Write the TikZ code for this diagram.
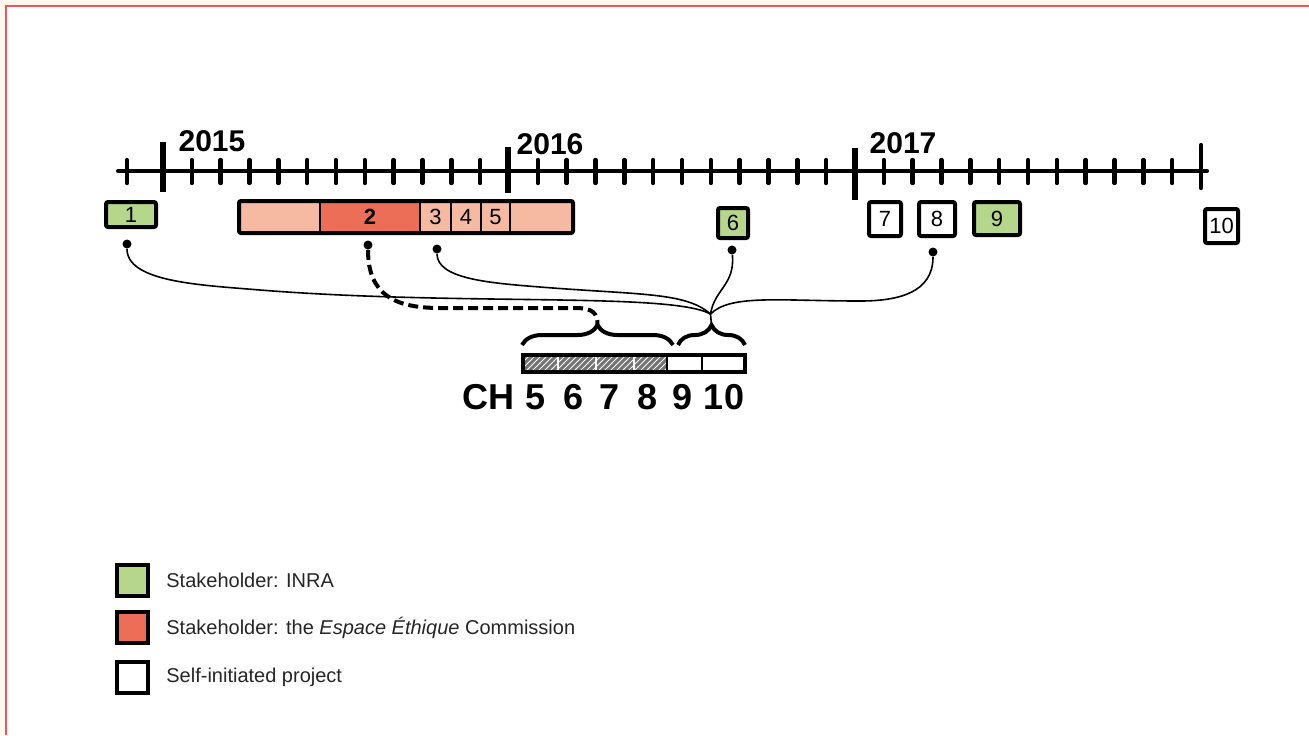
\documentclass[tikz,border=0pt]{standalone}
\usepackage{fontspec}
\setmainfont{Liberation Sans}
\usetikzlibrary{positioning,decorations.pathreplacing,patterns}

\definecolor{inragreen}{RGB}{182,214,140}
\definecolor{eered}{RGB}{236,110,86}
\definecolor{eelight}{RGB}{246,186,162}
\definecolor{framered}{RGB}{236,86,86}
\definecolor{cream}{RGB}{255,248,240}

\begin{document}
\begin{tikzpicture}[
    x=0.5pt, y=-0.5pt,
    axis/.style={line width=2pt, line cap=round},
    tick/.style={line width=2.2pt, line cap=round},
    yeartick/.style={line width=3pt},
    year/.style={font=\fontsize{15}{16}\selectfont\bfseries},
    task/.style={draw, line width=2pt, rounded corners=1pt, inner sep=0pt,
                 font=\fontsize{11}{12}\selectfont},
    cell/.style={draw, line width=0.8pt, inner sep=0pt, outer sep=0pt,
                 minimum height=16pt, font=\fontsize{11}{12}\selectfont},
    pin/.style={circle, fill, inner sep=0pt, minimum size=4.5pt},
    link/.style={line width=0.8pt},
    dashlink/.style={line width=2pt, dash pattern=on 5pt off 2.5pt},
    brace/.style={decorate, decoration={brace, amplitude=10pt}, line width=2pt},
    hatch/.style={draw=white, line width=0.8pt, inner sep=0pt, outer sep=0pt,
                  minimum height=8.5pt, fill=black!55,
                  postaction={pattern=north east lines, pattern color=white}},
    blank/.style={draw, line width=0.8pt, inner sep=0pt, outer sep=0pt,
                  minimum height=8.5pt, fill=white},
    chap/.style={font=\fontsize{18}{19}\selectfont\bfseries},
    key/.style={draw, line width=2pt, minimum size=15.5pt, inner sep=0pt},
    keytext/.style={inner sep=0pt, text=black!85, font=\fontsize{10}{12}\selectfont},
  ]

  % ============================== Frame ===================================
  \useasboundingbox (0,0) rectangle (1309,735);
  \fill[cream] (0,0) rectangle (1309,735);
  \fill[white] (6,6) rectangle (1309,735);
  \draw[framered, line width=0.8pt] (6,735) -- (6,6) -- (1309,6);

  % ============================== Timeline ================================
  \draw[axis] (118,171) -- (1207,171);
  \draw[tick] (127,160) -- (127,183);
  \foreach \yr in {0,1,2}
    \foreach \m in {1,...,11}
      \draw[tick] ({163+346*\yr+28.83*\m},160) -- ++(0,23);
  \foreach \xx/\ya/\yb in {163/142/192, 508/147/193, 855/148/200}
    \draw[yeartick] (\xx,\ya) -- (\xx,\yb);
  \draw[tick] (1201,145) -- (1201,188);

  \node[year] (y2015) at (212,141) {2015};
  \node[year] (y2016) at (550,144) {2016};
  \node[year] (y2017) at (903,143) {2017};

  % ============================== Projects ================================
  \node[task, fill=inragreen, minimum width=25pt, minimum height=12.5pt] (p1) at (131,214.5) {1};

  \node[cell, fill=eelight, minimum width=40.5pt] (c0) at (279.5,217) {};
  \node[cell, fill=eered, minimum width=50pt, font=\fontsize{11}{12}\selectfont\bfseries] (p2) at (370,217) {2};
  \node[cell, fill=eelight, minimum width=15.5pt] (p3) at (435.5,217) {3};
  \node[cell, fill=eelight, minimum width=15pt] (p4) at (466,217) {4};
  \node[cell, fill=eelight, minimum width=14.5pt] (p5) at (495.5,217) {5};
  \node[cell, fill=eelight, minimum width=31.5pt] (c6) at (541.5,217) {};
  \draw[line width=2pt, rounded corners=1pt] (c0.north west) rectangle (c6.south east);

  \node[task, fill=inragreen, minimum width=15pt, minimum height=15pt] (p6) at (733,223) {6};
  \node[task, fill=white, minimum width=16pt, minimum height=17pt] (p7) at (885,219) {7};
  \node[task, fill=white, minimum width=18pt, minimum height=17pt] (p8) at (937,219) {8};
  \node[task, fill=inragreen, minimum width=23pt, minimum height=16.5pt] (p9) at (997,218.5) {9};
  \node[task, fill=white, minimum width=16.5pt, minimum height=17pt] (p10) at (1221.5,226) {10};

  \foreach \n/\xx/\yy in {d1/127/244, d2/368/245, d3/437/249, d6/732/250, d8/933/252}
    \node[pin] (\n) at (\xx,\yy) {};

  % ============================== Chapters ================================
  \foreach \n/\xx/\w in {h5/540.5/17.5, h6/577/19, h7/615/19, h8/650.5/16.5}
    \node[hatch, minimum width=\w pt] (\n) at (\xx,363) {};
  \node[blank, minimum width=17.5pt] (w9) at (684.5,363) {};
  \node[blank, minimum width=21.5pt] (w10) at (723.5,363) {};
  \draw[line width=2pt] (h5.north west) rectangle (w10.south east);

  \node[chap] (ch) at (488,397) {CH};
  \foreach \n/\xx in {5/536, 6/573, 7/609, 8/647, 9/682, 10/724}
    \node[chap] (l\n) at (\xx,397) {\n};

  \draw[brace] (522,345) -- (673,345);
  \draw[brace] (678,345) -- (745,345);
  \coordinate (bigtip) at (597.5,325);
  \coordinate (smalltip) at (711.5,325);
  \coordinate (jn) at (710.5,314);

  % ============================== Links ===================================
  \draw[link] (d1) .. controls +(0,38) and +(-60,-5) .. (260,290)
                   .. controls +(200,16) and +(-40,-22) .. (jn);
  \draw[link] (d3) .. controls +(0,30) and +(-50,-4) .. (540,287)
                   .. controls +(100,8) and +(-25,-22) .. (jn);
  \draw[link] (d6) .. controls +(3,35) and +(4,-25) .. (jn);
  \draw[link] (d8) .. controls +(0,40) and +(40,0) .. (860,301)
                   .. controls +(-80,0) and +(20,-20) .. (jn);
  \draw[link] (jn) -- (smalltip);
  \draw[dashlink] (d2) .. controls +(0,50) and +(-45,0) .. (440,308) -- (575,308)
                       .. controls +(18,0) and +(0,-12) .. (bigtip);

  % ============================== Legend ==================================
  \node[key, fill=inragreen] (kinra) at (132.5,580.5) {};
  \node[keytext, right=8pt of kinra] (tinra) {Stakeholder: INRA};
  \node[key, fill=eered] (kee) at (132.5,627.5) {};
  \node[keytext, right=8pt of kee] (tee) {Stakeholder: the \textit{Espace Éthique} Commission};
  \node[key, fill=white] (kself) at (132.5,677.5) {};
  \node[keytext, right=8pt of kself] (tself) {Self-initiated project};
\end{tikzpicture}
\end{document}
